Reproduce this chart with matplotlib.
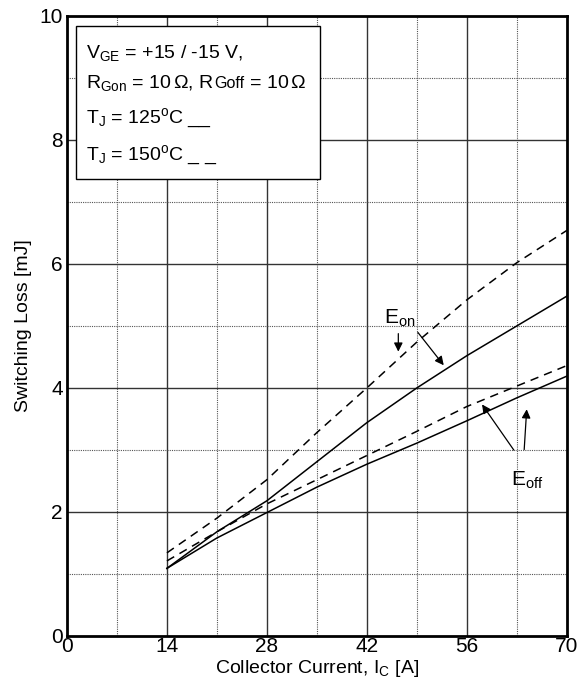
import numpy as np
import matplotlib
matplotlib.use('Agg')
import matplotlib.pyplot as plt

plt.rcParams.update({
    'font.family': ['Liberation Sans', 'DejaVu Sans'],
    'mathtext.fontset': 'custom',
    'mathtext.rm': 'Liberation Sans',
    'mathtext.it': 'Liberation Sans',
})

# collector current [A]
ic = [14, 21, 28, 35, 42, 49, 56, 63, 70]

# switching loss [mJ]
eon_125 = [1.09, 1.68, 2.18, 2.81, 3.44, 4.00, 4.52, 5.00, 5.48]
eon_150 = [1.34, 1.90, 2.52, 3.28, 4.00, 4.74, 5.42, 6.02, 6.54]
eoff_125 = [1.09, 1.58, 1.99, 2.40, 2.77, 3.11, 3.47, 3.84, 4.19]
eoff_150 = [1.21, 1.68, 2.13, 2.52, 2.91, 3.30, 3.70, 4.03, 4.36]

xticks = [0, 14, 28, 42, 56, 70]
yticks = [0, 2, 4, 6, 8, 10]

fig = plt.figure(figsize=(5.82, 6.89), dpi=100)
ax = fig.add_axes([0.115, 0.077, 0.859, 0.900])

# grid: solid majors, dotted minors
for x in np.arange(7, 70, 7):
    if x % 14 == 0:
        ax.axvline(x, color='#333333', lw=1.0, zorder=1)
    else:
        ax.axvline(x, color='#555555', lw=0.8, ls=(0, (1, 1)), zorder=1)
for y in np.arange(1, 10, 1):
    if y % 2 == 0:
        ax.axhline(y, color='#333333', lw=1.0, zorder=1)
    else:
        ax.axhline(y, color='#555555', lw=0.8, ls=(0, (1, 1)), zorder=1)

dash = (0, (5.5, 4))
ax.plot(ic, eon_125, color='black', lw=1.1, zorder=3)
ax.plot(ic, eoff_125, color='black', lw=1.1, zorder=3)
ax.plot(ic, eon_150, color='black', lw=1.1, ls=dash, zorder=3)
ax.plot(ic, eoff_150, color='black', lw=1.1, ls=dash, zorder=3)

ax.set_xlim(0, 70)
ax.set_ylim(0, 10)
ax.set_xticks(xticks)
ax.set_yticks(yticks)
ax.tick_params(length=0, labelsize=15, pad=1)
ax.tick_params(axis='y', pad=3)
for s in ax.spines.values():
    s.set_linewidth(2.0)
    s.set_zorder(5)

ax.set_xlabel(r'Collector Current, I$_\mathregular{C}$ [A]', fontsize=14, labelpad=1)
ax.set_ylabel('Switching Loss [mJ]', fontsize=14, labelpad=5)

# condition box
box = plt.Rectangle((1.2, 7.37), 34.2, 2.47, facecolor='white', edgecolor='black',
                    lw=1.0, zorder=4)
ax.add_patch(box)
tx = 2.7
fs = 14
ax.text(tx, 9.32, r'V$_\mathregular{GE}$ = +15 / -15 V,', fontsize=fs, va='baseline', zorder=6)
t_r = ax.text(tx, 8.83, r'R$_\mathregular{Gon}$ = 10$\,\Omega$, R', fontsize=fs,
              va='baseline', zorder=6)
ax.text(tx, 8.28, r'T$_\mathregular{J}$ = 125$^\mathregular{o}$C __', fontsize=fs, va='baseline', zorder=6)
ax.text(tx, 7.68, r'T$_\mathregular{J}$ = 150$^\mathregular{o}$C _ _', fontsize=fs, va='baseline', zorder=6)

# "Goff" in a smaller face on the same baseline, then the value
fig.canvas.draw()
x_end = ax.transData.inverted().transform(t_r.get_window_extent().p1)[0]
t_g = ax.text(x_end, 8.83, 'Goff', fontsize=11.5, va='baseline', zorder=6)
fig.canvas.draw()
x_end = ax.transData.inverted().transform(t_g.get_window_extent().p1)[0]
ax.text(x_end, 8.83, r' = 10$\,\Omega$', fontsize=fs, va='baseline', zorder=6)

# curve labels with arrows
ap = dict(arrowstyle='-|>', color='black', lw=0.9, mutation_scale=13)
ax.text(44.4, 5.03, r'E$_\mathregular{on}$', fontsize=15, zorder=6)
ax.annotate('', xy=(46.4, 4.54), xytext=(46.4, 4.92), arrowprops=ap, zorder=6)
ax.annotate('', xy=(53.0, 4.33), xytext=(48.9, 4.93), arrowprops=ap, zorder=6)

ax.text(62.2, 2.43, r'E$_\mathregular{off}$', fontsize=15, zorder=6)
ax.annotate('', xy=(57.9, 3.77), xytext=(62.8, 2.96), arrowprops=ap, zorder=6)
ax.annotate('', xy=(64.4, 3.70), xytext=(64.0, 2.96), arrowprops=ap, zorder=6)

fig.savefig('out.png', dpi=100)
